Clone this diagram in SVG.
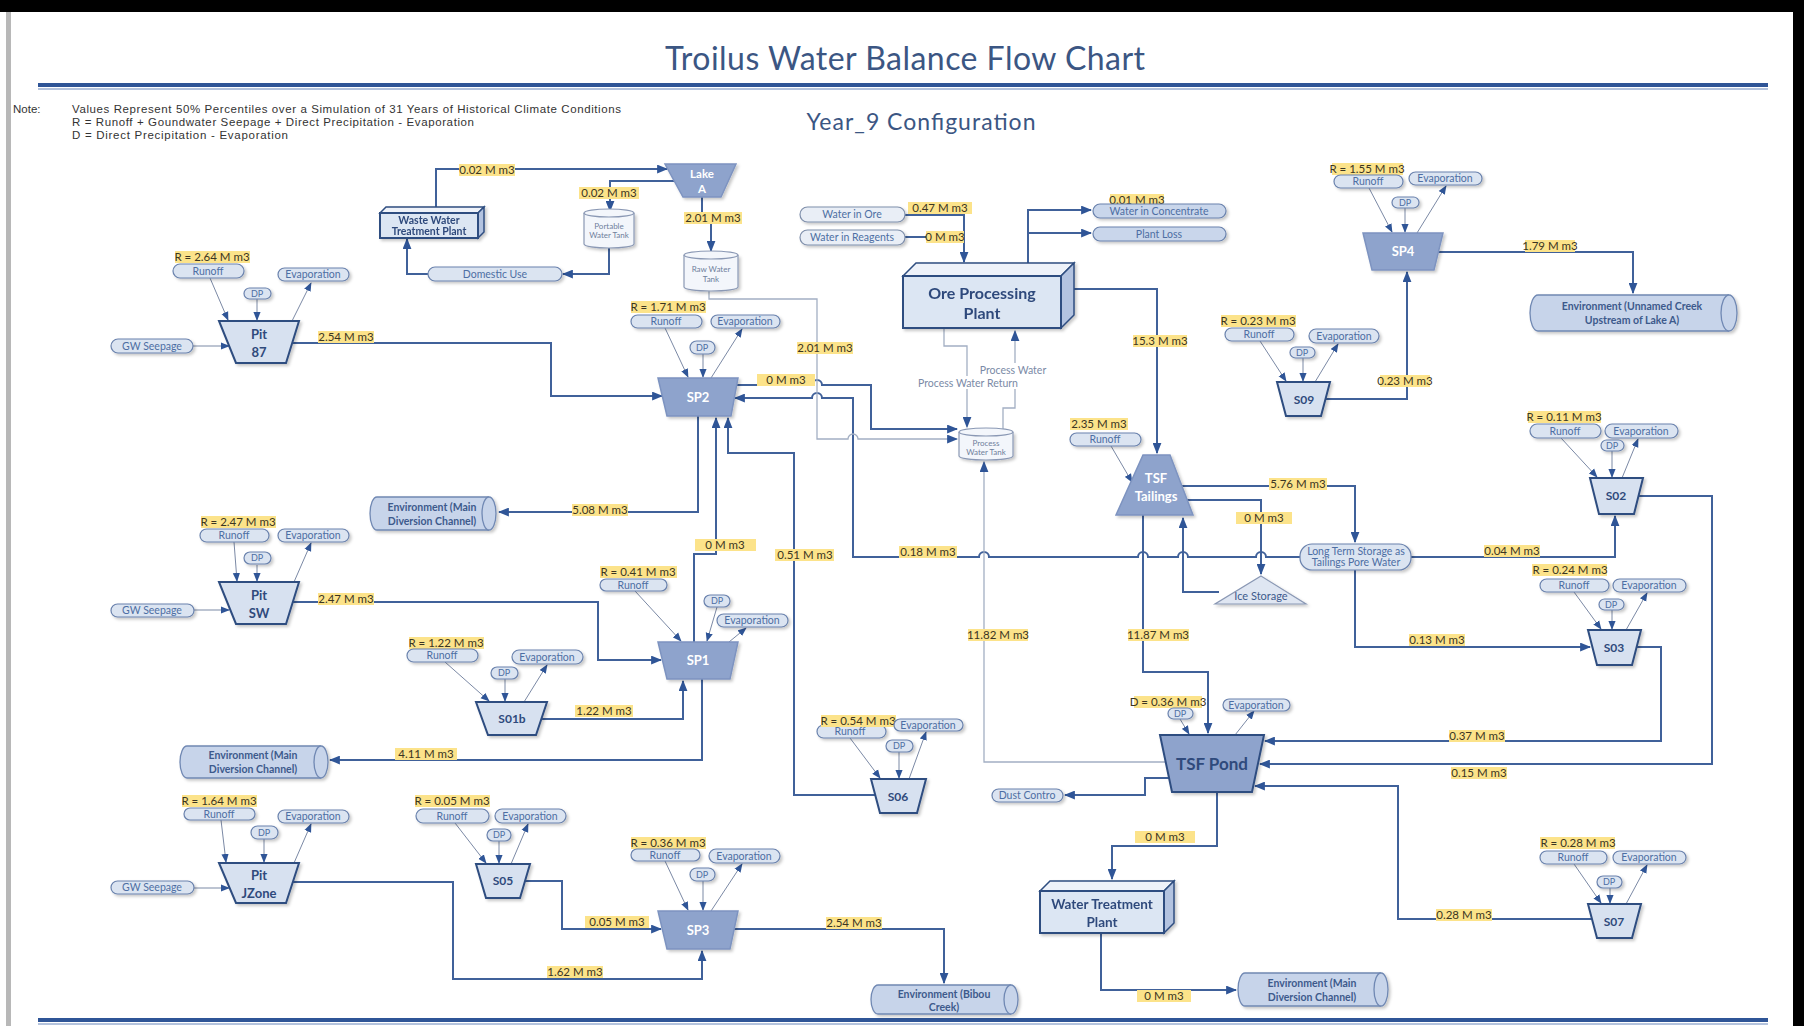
<svg xmlns="http://www.w3.org/2000/svg" width="1804" height="1026" viewBox="0 0 1804 1026">
<style>
text{font-family:Lato,"Open Sans","Liberation Sans",sans-serif}
.pill{fill:#dbe4f1;stroke:#6a82ad;stroke-width:1.2}
.pill2{fill:#e9eef6;stroke:#7f8fab;stroke-width:1.2}
.pill3{fill:#c9d6eb;stroke:#6a82ad;stroke-width:1.2}
.pt{font-size:10.5px;fill:#4d6ea3;text-anchor:middle}
.lb{fill:#fce38a}
.lt{font-size:11.5px;fill:#3b3522;text-anchor:middle}
.pl{fill:#d7e1f0;stroke:#2f4d80;stroke-width:2}
.pd{fill:#8ea3cc;stroke:#7d93c0;stroke-width:1.5}
.nt{font-size:13px;font-weight:bold;fill:#2f4a7c;text-anchor:middle}
.nw{font-size:13px;font-weight:bold;fill:#ffffff;text-anchor:middle}
.env{fill:#c7d4ea;stroke:#7088b3;stroke-width:1.3}
.et{font-size:10.5px;font-weight:bold;fill:#3d5a8c;text-anchor:middle}
.box{fill:#dce6f3;stroke:#2f4d80;stroke-width:2}
.boxt{fill:#eef2f9;stroke:#2f4d80;stroke-width:1.5}
.boxr{fill:#b3c3e0;stroke:#2f4d80;stroke-width:1.5}
.tank{fill:#f3f6fb;stroke:#8a98b4;stroke-width:1.2}
.tt{font-size:8px;fill:#6f7f9c;text-anchor:middle}
.c{fill:none;stroke:#40619a;stroke-width:2}
.t{fill:none;stroke:#a3afc3;stroke-width:1.3}
.s{fill:none;stroke:#7b89a5;stroke-width:1}
.gt{font-size:10.5px;fill:#7a8aa6;text-anchor:middle}
.note{font-family:"Liberation Sans",Arial,sans-serif;font-size:11.5px;fill:#333}
.sh{filter:url(#sh)}
</style>
<defs>
<filter id="sh" x="-10%" y="-10%" width="130%" height="150%"><feDropShadow dx="2" dy="2" stdDeviation="1.5" flood-color="#000" flood-opacity="0.22"/></filter>
<marker id="a" viewBox="0 0 10 8" refX="9" refY="4" markerWidth="11" markerHeight="9" markerUnits="userSpaceOnUse" orient="auto"><path d="M0,0 L10,4 L0,8 Z" fill="#2f5597"/></marker>
<marker id="b" viewBox="0 0 10 8" refX="9" refY="4" markerWidth="9" markerHeight="8" markerUnits="userSpaceOnUse" orient="auto"><path d="M0,0 L10,4 L0,8 Z" fill="#2f5597"/></marker>
</defs>

<!-- frame -->
<rect x="0" y="0" width="1804" height="1026" fill="#ffffff"/>
<rect x="0" y="0" width="1804" height="12" fill="#000"/>
<rect x="1793" y="0" width="11" height="1026" fill="#000"/>
<rect x="6" y="12" width="5" height="1014" fill="#b8b8b8"/>
<line x1="38" y1="89" x2="1768" y2="89" stroke="#b4c3dd" stroke-width="2"/>
<line x1="38" y1="85" x2="1768" y2="85" stroke="#2f5597" stroke-width="4"/>
<line x1="38" y1="1024" x2="1768" y2="1024" stroke="#b4c3dd" stroke-width="2"/>
<line x1="38" y1="1020" x2="1768" y2="1020" stroke="#2f5597" stroke-width="4"/>

<text x="905" y="70" style="font-size:32px;fill:#3b5683;text-anchor:middle" textLength="480">Troilus Water Balance Flow Chart</text>
<text x="921" y="130" style="font-size:23px;fill:#3b5683;text-anchor:middle" textLength="229">Year_9 Configuration</text>
<text class="note" x="13" y="113">Note:</text>
<text class="note" x="72" y="113" textLength="549">Values Represent 50% Percentiles over a Simulation of 31 Years of Historical Climate Conditions</text>
<text class="note" x="72" y="126" textLength="402">R = Runoff + Goundwater Seepage + Direct Precipitation - Evaporation</text>
<text class="note" x="72" y="139" textLength="216">D = Direct Precipitation - Evaporation</text>

<!-- connectors -->
<g id="connectors">
<g class="c">
<path d="M436,207 V169 H667" marker-end="url(#a)"/>
<path d="M674,181 H610 V211" marker-end="url(#a)"/>
<path d="M609,247 V274 H563" marker-end="url(#a)"/>
<path d="M428,274 H407 V239" marker-end="url(#a)"/>
<path d="M702,197 V218 H711 V251" marker-end="url(#a)"/>
<path d="M292,343 H551 V396 H662" marker-end="url(#a)"/>
<path d="M737,385 H812 A5,5 0 0 1 822,385 H871 V429 H957" marker-end="url(#a)"/>
<path d="M1300,557 H1266 A5,5 0 0 0 1256,557 H1188 A5,5 0 0 0 1178,557 H1148 A5,5 0 0 0 1138,557 H989 A5,5 0 0 0 979,557 H853 V398 H822 A5,5 0 0 0 812,398 H735" marker-end="url(#a)"/>
<path d="M698,416 V512 H499" marker-end="url(#a)"/>
<path d="M694,642 V554 H716 V418" marker-end="url(#a)"/>
<path d="M875,795 H794 V453 H728 V418" marker-end="url(#a)"/>
<path d="M293,602 H598 V660 H661" marker-end="url(#a)"/>
<path d="M541,719 H683 V681" marker-end="url(#a)"/>
<path d="M702,679 V760 H330" marker-end="url(#a)"/>
<path d="M525,881 H562 V929 H661" marker-end="url(#a)"/>
<path d="M293,882 H453 V979 H702 V951" marker-end="url(#a)"/>
<path d="M734,929 H944 V983" marker-end="url(#a)"/>
<path d="M905,215 H964 V262" marker-end="url(#a)"/>
<path d="M905,237 H964"/>
<path d="M1028,263 V210 H1091" marker-end="url(#a)"/>
<path d="M1028,233 H1091" marker-end="url(#a)"/>
<path d="M1074,289 H1157 V453" marker-end="url(#a)"/>
<path d="M1182,486 H1355 V542" marker-end="url(#a)"/>
<path d="M1187,500 H1261 V574" marker-end="url(#a)"/>
<path d="M1219,592 H1183 V518" marker-end="url(#a)"/>
<path d="M1143,515 V672 H1208 V733" marker-end="url(#a)"/>
<path d="M1411,557 H1615 V516" marker-end="url(#a)"/>
<path d="M1355,570 V647 H1590" marker-end="url(#a)"/>
<path d="M1637,647 H1661 V741 H1265" marker-end="url(#a)"/>
<path d="M1638,496 H1712 V764 H1260" marker-end="url(#a)"/>
<path d="M1592,919 H1398 V786 H1255" marker-end="url(#a)"/>
<path d="M1169,778 H1145 V795 H1065" marker-end="url(#a)"/>
<path d="M1217,792 V846 H1112 V879" marker-end="url(#a)"/>
<path d="M1101,933 V990 H1236" marker-end="url(#a)"/>
<path d="M1438,252 H1633 V293" marker-end="url(#a)"/>
<path d="M1325,399 H1407 V272" marker-end="url(#a)"/>
</g>
<g class="t">
<path d="M709,290 V299 H817 V439 H848 A5,5 0 0 1 858,439 H957" marker-end="url(#a)"/>
<path d="M944,328 V346 H967 V427" marker-end="url(#a)"/>
<path d="M1003,430 V408 H1015 V331" marker-end="url(#a)"/>
<path d="M1166,762 H984 V462" marker-end="url(#a)"/>
</g>
<g class="s">
<path d="M210,278 L228,320" marker-end="url(#b)"/><path d="M257,299 V320" marker-end="url(#b)"/><path d="M292,321 L311,283" marker-end="url(#b)"/>
<path d="M234,542 L237,581" marker-end="url(#b)"/><path d="M257,565 V581" marker-end="url(#b)"/><path d="M294,582 L311,543" marker-end="url(#b)"/>
<path d="M221,820 L226,862" marker-end="url(#b)"/><path d="M264,839 V862" marker-end="url(#b)"/><path d="M294,863 L311,824" marker-end="url(#b)"/>
<path d="M665,328 L688,377" marker-end="url(#b)"/><path d="M703,354 V377" marker-end="url(#b)"/><path d="M711,378 L742,329" marker-end="url(#b)"/>
<path d="M635,591 L681,641" marker-end="url(#b)"/><path d="M717,607 L707,641" marker-end="url(#b)"/><path d="M729,642 L746,628" marker-end="url(#b)"/>
<path d="M665,861 L688,910" marker-end="url(#b)"/><path d="M703,881 V910" marker-end="url(#b)"/><path d="M711,911 L742,864" marker-end="url(#b)"/>
<path d="M1369,188 L1392,232" marker-end="url(#b)"/><path d="M1405,208 V232" marker-end="url(#b)"/><path d="M1417,233 L1446,186" marker-end="url(#b)"/>
<path d="M1260,341 L1286,381" marker-end="url(#b)"/><path d="M1303,358 V381" marker-end="url(#b)"/><path d="M1315,382 L1338,344" marker-end="url(#b)"/>
<path d="M1561,438 L1597,477" marker-end="url(#b)"/><path d="M1612,451 V477" marker-end="url(#b)"/><path d="M1622,478 L1638,439" marker-end="url(#b)"/>
<path d="M1574,592 L1601,629" marker-end="url(#b)"/><path d="M1612,610 V629" marker-end="url(#b)"/><path d="M1626,630 L1647,593" marker-end="url(#b)"/>
<path d="M1574,864 L1601,903" marker-end="url(#b)"/><path d="M1610,888 V903" marker-end="url(#b)"/><path d="M1626,904 L1647,865" marker-end="url(#b)"/>
<path d="M445,662 L489,701" marker-end="url(#b)"/><path d="M505,679 V701" marker-end="url(#b)"/><path d="M524,702 L547,665" marker-end="url(#b)"/>
<path d="M455,823 L486,863" marker-end="url(#b)"/><path d="M499,841 V863" marker-end="url(#b)"/><path d="M511,864 L528,824" marker-end="url(#b)"/>
<path d="M850,738 L880,778" marker-end="url(#b)"/><path d="M899,752 V778" marker-end="url(#b)"/><path d="M909,779 L926,732" marker-end="url(#b)"/>
<path d="M1180,719 L1189,734" marker-end="url(#b)"/><path d="M1235,735 L1254,711" marker-end="url(#b)"/>
<path d="M1111,446 L1132,482" marker-end="url(#b)"/>
<path d="M193,346 H229" marker-end="url(#b)"/>
<path d="M194,610 H229" marker-end="url(#b)"/>
<path d="M194,888 H229" marker-end="url(#b)"/>
</g>
</g>

<!-- flow labels -->
<g id="flow-labels">
<rect class="lb" x="459" y="164" width="56" height="12"/><text class="lt" x="487" y="174">0.02 M m3</text>
<rect class="lb" x="579" y="187" width="60" height="12"/><text class="lt" x="609" y="197">0.02 M m3</text>
<rect class="lb" x="684" y="212" width="58" height="12"/><text class="lt" x="713" y="222">2.01 M m3</text>
<rect class="lb" x="318" y="331" width="56" height="12"/><text class="lt" x="346" y="341">2.54 M m3</text>
<rect class="lb" x="797" y="342" width="56" height="12"/><text class="lt" x="825" y="352">2.01 M m3</text>
<rect class="lb" x="757" y="374" width="58" height="12"/><text class="lt" x="786" y="384">0 M m3</text>
<rect class="lb" x="908" y="202" width="64" height="12"/><text class="lt" x="940" y="212">0.47 M m3</text>
<rect class="lb" x="926" y="231" width="38" height="12"/><text class="lt" x="945" y="241">0 M m3</text>
<rect class="lb" x="1110" y="194" width="54" height="12"/><text class="lt" x="1137" y="204">0.01 M m3</text>
<rect class="lb" x="1133" y="335" width="54" height="12"/><text class="lt" x="1160" y="345">15.3 M m3</text>
<rect class="lb" x="1525" y="240" width="50" height="12"/><text class="lt" x="1550" y="250">1.79 M m3</text>
<rect class="lb" x="1380" y="375" width="50" height="12"/><text class="lt" x="1405" y="385">0.23 M m3</text>
<rect class="lb" x="1070" y="418" width="58" height="12"/><text class="lt" x="1099" y="428">2.35 M m3</text>
<rect class="lb" x="1269" y="478" width="58" height="12"/><text class="lt" x="1298" y="488">5.76 M m3</text>
<rect class="lb" x="1236" y="512" width="56" height="12"/><text class="lt" x="1264" y="522">0 M m3</text>
<rect class="lb" x="1484" y="545" width="56" height="12"/><text class="lt" x="1512" y="555">0.04 M m3</text>
<rect class="lb" x="1409" y="634" width="56" height="12"/><text class="lt" x="1437" y="644">0.13 M m3</text>
<rect class="lb" x="899" y="546" width="58" height="12"/><text class="lt" x="928" y="556">0.18 M m3</text>
<rect class="lb" x="775" y="549" width="59" height="12"/><text class="lt" x="805" y="559">0.51 M m3</text>
<rect class="lb" x="695" y="539" width="61" height="12"/><text class="lt" x="725" y="549">0 M m3</text>
<rect class="lb" x="572" y="504" width="56" height="12"/><text class="lt" x="600" y="514">5.08 M m3</text>
<rect class="lb" x="318" y="593" width="56" height="12"/><text class="lt" x="346" y="603">2.47 M m3</text>
<rect class="lb" x="575" y="705" width="58" height="12"/><text class="lt" x="604" y="715">1.22 M m3</text>
<rect class="lb" x="395" y="748" width="62" height="12"/><text class="lt" x="426" y="758">4.11 M m3</text>
<rect class="lb" x="968" y="629" width="60" height="12"/><text class="lt" x="998" y="639">11.82 M m3</text>
<rect class="lb" x="1128" y="629" width="61" height="12"/><text class="lt" x="1158" y="639">11.87 M m3</text>
<rect class="lb" x="1449" y="730" width="56" height="12"/><text class="lt" x="1477" y="740">0.37 M m3</text>
<rect class="lb" x="1451" y="767" width="56" height="12"/><text class="lt" x="1479" y="777">0.15 M m3</text>
<rect class="lb" x="585" y="916" width="64" height="12"/><text class="lt" x="617" y="926">0.05 M m3</text>
<rect class="lb" x="547" y="966" width="56" height="12"/><text class="lt" x="575" y="976">1.62 M m3</text>
<rect class="lb" x="826" y="917" width="56" height="12"/><text class="lt" x="854" y="927">2.54 M m3</text>
<rect class="lb" x="1135" y="831" width="60" height="12"/><text class="lt" x="1165" y="841">0 M m3</text>
<rect class="lb" x="1137" y="990" width="54" height="12"/><text class="lt" x="1164" y="1000">0 M m3</text>
<rect class="lb" x="1436" y="909" width="56" height="12"/><text class="lt" x="1464" y="919">0.28 M m3</text>
<rect fill="#fff" x="915" y="376" width="107" height="13"/><text class="gt" x="968" y="387">Process Water Return</text>
<rect fill="#fff" x="978" y="363" width="71" height="13"/><text class="gt" x="1013" y="374">Process Water</text>
</g>

<!-- top area nodes -->
<g id="wwtp" class="sh">
<polygon class="boxt" points="380,213 386,207 484,207 478,213"/>
<polygon class="boxr" points="478,213 484,207 484,232 478,238"/>
<rect class="box" x="380" y="213" width="98" height="25"/>
<text class="et" style="font-size:10.5px;fill:#2f4a7c" x="429" y="224">Waste Water</text>
<text class="et" style="font-size:10.5px;fill:#2f4a7c" x="429" y="235">Treatment Plant</text>
</g>
<g id="lakeA">
<polygon class="pd sh" points="665,164 736,164 721,197 683,197"/>
<text class="nw" style="font-size:11.5px" x="702" y="178">Lake</text>
<text class="nw" style="font-size:11.5px" x="702" y="193">A</text>
</g>
<g id="portable-tank">
<path class="tank sh" d="M584,213 V244 A25,4 0 0 0 634,244 V213"/>
<ellipse class="tank" cx="609" cy="213" rx="25" ry="4"/>
<text class="tt" x="609" y="229">Portable</text>
<text class="tt" x="609" y="238">Water Tank</text>
</g>
<g id="domestic-use"><rect class="pill sh" x="428" y="267" width="134" height="14" rx="7"/><text class="pt" x="495" y="278">Domestic Use</text></g>
<g id="raw-tank">
<path class="tank sh" d="M684,255 V287 A27,4 0 0 0 738,287 V255"/>
<ellipse class="tank" cx="711" cy="255" rx="27" ry="4"/>
<text class="tt" x="711" y="272">Raw Water</text>
<text class="tt" x="711" y="282">Tank</text>
</g>
<g id="water-in-ore"><rect class="pill2 sh" x="800" y="207" width="105" height="15" rx="7.5"/><text class="pt" x="852" y="218">Water in Ore</text></g>
<g id="water-in-reagents"><rect class="pill2 sh" x="800" y="230" width="105" height="15" rx="7.5"/><text class="pt" x="852" y="241">Water in Reagents</text></g>
<g id="water-in-concentrate"><rect class="pill3 sh" x="1093" y="204" width="133" height="14" rx="7"/><text class="pt" x="1159" y="215">Water in Concentrate</text></g>
<g id="plant-loss"><rect class="pill3 sh" x="1093" y="227" width="133" height="14" rx="7"/><text class="pt" x="1159" y="238">Plant Loss</text></g>
<g id="ore-plant" class="sh">
<polygon class="boxt" points="903,276 916,263 1074,263 1061,276"/>
<polygon class="boxr" points="1061,276 1074,263 1074,315 1061,328"/>
<rect class="box" x="903" y="276" width="158" height="52"/>
<text class="nt" style="font-size:16px" x="982" y="299">Ore Processing</text>
<text class="nt" style="font-size:16px" x="982" y="319">Plant</text>
</g>
<g id="process-tank">
<path class="tank sh" d="M959,432 V456 A27,4 0 0 0 1013,456 V432"/>
<ellipse class="tank" cx="986" cy="432" rx="27" ry="4"/>
<text class="tt" x="986" y="446">Process</text>
<text class="tt" x="986" y="455">Water Tank</text>
</g>

<!-- Pit 87 -->
<g id="pit87">
<rect class="lb" x="175" y="251" width="75" height="12"/><text class="lt" x="212" y="261">R = 2.64 M m3</text>
<rect class="pill sh" x="173" y="264" width="71" height="14" rx="7"/><text class="pt" x="208" y="275">Runoff</text>
<rect class="pill sh" x="278" y="268" width="71" height="13" rx="6.5"/><text class="pt" x="313" y="278">Evaporation</text>
<rect class="pill sh" x="244" y="288" width="27" height="11" rx="5.5"/><text class="pt" x="257" y="297" style="font-size:9px">DP</text>
<rect class="pill sh" x="111" y="339" width="82" height="14" rx="7"/><text class="pt" x="152" y="350">GW Seepage</text>
<polygon class="pl sh" points="219,321 299,321 286,363 236,363"/>
<text class="nt" x="259" y="339">Pit</text><text class="nt" x="259" y="357">87</text>
</g>
<!-- Pit SW -->
<g id="pitSW">
<rect class="lb" x="201" y="516" width="75" height="12"/><text class="lt" x="238" y="526">R = 2.47 M m3</text>
<rect class="pill sh" x="200" y="529" width="69" height="13" rx="6.5"/><text class="pt" x="234" y="539">Runoff</text>
<rect class="pill sh" x="278" y="529" width="71" height="13" rx="6.5"/><text class="pt" x="313" y="539">Evaporation</text>
<rect class="pill sh" x="244" y="552" width="27" height="12" rx="6"/><text class="pt" x="257" y="561" style="font-size:9px">DP</text>
<rect class="pill sh" x="111" y="604" width="83" height="13" rx="6.5"/><text class="pt" x="152" y="614">GW Seepage</text>
<polygon class="pl sh" points="219,582 299,582 286,624 236,624"/>
<text class="nt" x="259" y="600">Pit</text><text class="nt" x="259" y="618">SW</text>
</g>
<!-- Pit JZone -->
<g id="pitJZone">
<rect class="lb" x="182" y="795" width="75" height="12"/><text class="lt" x="219" y="805">R = 1.64 M m3</text>
<rect class="pill sh" x="184" y="808" width="71" height="12" rx="6"/><text class="pt" x="219" y="818">Runoff</text>
<rect class="pill sh" x="278" y="810" width="71" height="13" rx="6.5"/><text class="pt" x="313" y="820">Evaporation</text>
<rect class="pill sh" x="251" y="826" width="27" height="13" rx="6.5"/><text class="pt" x="264" y="836" style="font-size:9px">DP</text>
<rect class="pill sh" x="111" y="881" width="83" height="13" rx="6.5"/><text class="pt" x="152" y="891">GW Seepage</text>
<polygon class="pl sh" points="219,863 299,863 286,903 236,903"/>
<text class="nt" x="259" y="880">Pit</text><text class="nt" x="259" y="898">JZone</text>
</g>
<!-- SP2 -->
<g id="sp2">
<rect class="lb" x="631" y="301" width="75" height="12"/><text class="lt" x="668" y="311">R = 1.71 M m3</text>
<rect class="pill sh" x="631" y="315" width="71" height="13" rx="6.5"/><text class="pt" x="666" y="325">Runoff</text>
<rect class="pill sh" x="711" y="315" width="69" height="13" rx="6.5"/><text class="pt" x="745" y="325">Evaporation</text>
<rect class="pill sh" x="690" y="341" width="25" height="13" rx="6.5"/><text class="pt" x="702" y="351" style="font-size:9px">DP</text>
<polygon class="pd sh" points="658,378 738,378 731,416 667,416"/>
<text class="nw" x="698" y="402">SP2</text>
</g>
<!-- SP1 -->
<g id="sp1">
<rect class="lb" x="600" y="566" width="77" height="12"/><text class="lt" x="638" y="576">R = 0.41 M m3</text>
<rect class="pill sh" x="600" y="579" width="67" height="12" rx="6"/><text class="pt" x="633" y="589">Runoff</text>
<rect class="pill sh" x="704" y="595" width="26" height="12" rx="6"/><text class="pt" x="717" y="604" style="font-size:9px">DP</text>
<rect class="pill sh" x="717" y="614" width="71" height="13" rx="6.5"/><text class="pt" x="752" y="624">Evaporation</text>
<polygon class="pd sh" points="658,642 738,642 730,679 667,679"/>
<text class="nw" x="698" y="665">SP1</text>
</g>
<!-- SP3 -->
<g id="sp3">
<rect class="lb" x="631" y="837" width="75" height="12"/><text class="lt" x="668" y="847">R = 0.36 M m3</text>
<rect class="pill sh" x="631" y="849" width="69" height="12" rx="6"/><text class="pt" x="665" y="859">Runoff</text>
<rect class="pill sh" x="709" y="849" width="71" height="14" rx="7"/><text class="pt" x="744" y="860">Evaporation</text>
<rect class="pill sh" x="690" y="868" width="25" height="13" rx="6.5"/><text class="pt" x="702" y="878" style="font-size:9px">DP</text>
<polygon class="pd sh" points="658,911 738,911 730,949 667,949"/>
<text class="nw" x="698" y="935">SP3</text>
</g>
<!-- SP4 -->
<g id="sp4">
<rect class="lb" x="1332" y="163" width="71" height="12"/><text class="lt" x="1367" y="173">R = 1.55 M m3</text>
<rect class="pill sh" x="1334" y="175" width="69" height="13" rx="6.5"/><text class="pt" x="1368" y="185">Runoff</text>
<rect class="pill sh" x="1409" y="172" width="73" height="13" rx="6.5"/><text class="pt" x="1445" y="182">Evaporation</text>
<rect class="pill sh" x="1392" y="197" width="27" height="11" rx="5.5"/><text class="pt" x="1405" y="206" style="font-size:9px">DP</text>
<polygon class="pd sh" points="1363,233 1443,233 1434,270 1372,270"/>
<text class="nw" x="1403" y="256">SP4</text>
</g>
<!-- S09 -->
<g id="s09">
<rect class="lb" x="1221" y="315" width="75" height="12"/><text class="lt" x="1258" y="325">R = 0.23 M m3</text>
<rect class="pill sh" x="1225" y="328" width="69" height="13" rx="6.5"/><text class="pt" x="1259" y="338">Runoff</text>
<rect class="pill sh" x="1309" y="329" width="70" height="14" rx="7"/><text class="pt" x="1344" y="340">Evaporation</text>
<rect class="pill sh" x="1290" y="347" width="25" height="11" rx="5.5"/><text class="pt" x="1302" y="356" style="font-size:9px">DP</text>
<polygon class="pl sh" points="1277,382 1330,382 1321,416 1286,416"/>
<text class="nt" style="font-size:12px" x="1304" y="404">S09</text>
</g>
<!-- S02 -->
<g id="s02">
<rect class="lb" x="1528" y="411" width="73" height="12"/><text class="lt" x="1564" y="421">R = 0.11 M m3</text>
<rect class="pill sh" x="1530" y="424" width="71" height="14" rx="7"/><text class="pt" x="1565" y="435">Runoff</text>
<rect class="pill sh" x="1605" y="424" width="73" height="14" rx="7"/><text class="pt" x="1641" y="435">Evaporation</text>
<rect class="pill sh" x="1601" y="440" width="23" height="11" rx="5.5"/><text class="pt" x="1612" y="449" style="font-size:9px">DP</text>
<polygon class="pl sh" points="1590,478 1643,478 1634,514 1599,514"/>
<text class="nt" style="font-size:12px" x="1616" y="500">S02</text>
</g>
<!-- S03 -->
<g id="s03">
<rect class="lb" x="1532" y="564" width="75" height="12"/><text class="lt" x="1570" y="574">R = 0.24 M m3</text>
<rect class="pill sh" x="1540" y="579" width="69" height="13" rx="6.5"/><text class="pt" x="1574" y="589">Runoff</text>
<rect class="pill sh" x="1613" y="579" width="73" height="13" rx="6.5"/><text class="pt" x="1649" y="589">Evaporation</text>
<rect class="pill sh" x="1599" y="599" width="25" height="11" rx="5.5"/><text class="pt" x="1611" y="608" style="font-size:9px">DP</text>
<polygon class="pl sh" points="1588,630 1641,630 1632,665 1597,665"/>
<text class="nt" style="font-size:12px" x="1614" y="652">S03</text>
</g>
<!-- S07 -->
<g id="s07">
<rect class="lb" x="1540" y="837" width="75" height="12"/><text class="lt" x="1578" y="847">R = 0.28 M m3</text>
<rect class="pill sh" x="1540" y="851" width="67" height="13" rx="6.5"/><text class="pt" x="1573" y="861">Runoff</text>
<rect class="pill sh" x="1613" y="851" width="73" height="13" rx="6.5"/><text class="pt" x="1649" y="861">Evaporation</text>
<rect class="pill sh" x="1597" y="876" width="25" height="12" rx="6"/><text class="pt" x="1609" y="885" style="font-size:9px">DP</text>
<polygon class="pl sh" points="1588,904 1641,904 1632,938 1597,938"/>
<text class="nt" style="font-size:12px" x="1614" y="926">S07</text>
</g>
<!-- S01b -->
<g id="s01b">
<rect class="lb" x="409" y="637" width="75" height="12"/><text class="lt" x="446" y="647">R = 1.22 M m3</text>
<rect class="pill sh" x="407" y="649" width="71" height="13" rx="6.5"/><text class="pt" x="442" y="659">Runoff</text>
<rect class="pill sh" x="512" y="650" width="71" height="14" rx="7"/><text class="pt" x="547" y="661">Evaporation</text>
<rect class="pill sh" x="491" y="667" width="27" height="12" rx="6"/><text class="pt" x="504" y="676" style="font-size:9px">DP</text>
<polygon class="pl sh" points="476,702 547,702 536,735 488,735"/>
<text class="nt" style="font-size:12px" x="512" y="723">S01b</text>
</g>
<!-- S05 -->
<g id="s05">
<rect class="lb" x="415" y="795" width="75" height="12"/><text class="lt" x="452" y="805">R = 0.05 M m3</text>
<rect class="pill sh" x="416" y="809" width="73" height="14" rx="7"/><text class="pt" x="452" y="820">Runoff</text>
<rect class="pill sh" x="495" y="809" width="71" height="14" rx="7"/><text class="pt" x="530" y="820">Evaporation</text>
<rect class="pill sh" x="487" y="829" width="24" height="12" rx="6"/><text class="pt" x="499" y="838" style="font-size:9px">DP</text>
<polygon class="pl sh" points="476,864 530,864 520,898 486,898"/>
<text class="nt" style="font-size:12px" x="503" y="885">S05</text>
</g>
<!-- S06 -->
<g id="s06">
<rect class="pill sh" x="817" y="725" width="69" height="13" rx="6.5"/><text class="pt" x="850" y="735">Runoff</text>
<rect class="lb" x="821" y="715" width="75" height="12"/><text class="lt" x="858" y="725">R = 0.54 M m3</text>
<rect class="pill sh" x="894" y="719" width="69" height="12" rx="6"/><text class="pt" x="928" y="729">Evaporation</text>
<rect class="pill sh" x="886" y="740" width="27" height="12" rx="6"/><text class="pt" x="899" y="749" style="font-size:9px">DP</text>
<polygon class="pl sh" points="871,779 926,779 917,813 880,813"/>
<text class="nt" style="font-size:12px" x="898" y="801">S06</text>
</g>
<!-- TSF Tailings -->
<g id="tsf-tailings">
<rect class="pill sh" x="1070" y="433" width="71" height="13" rx="6.5"/><text class="pt" x="1105" y="443">Runoff</text>
<polygon class="pd sh" points="1143,455 1170,455 1193,515 1116,515"/>
<text class="nw" x="1156" y="483">TSF</text>
<text class="nw" x="1156" y="501">Tailings</text>
</g>
<g id="ice-storage">
<polygon class="tank sh" points="1261,576 1306,604 1215,604" style="fill:#dfe6f2"/>
<text style="font-size:11px;fill:#3d5a8c;text-anchor:middle" x="1261" y="600">Ice Storage</text>
</g>
<g id="long-term-storage">
<rect class="pill sh" x="1300" y="544" width="111" height="26" rx="12"/>
<text class="pt" x="1356" y="555">Long Term Storage as</text>
<text class="pt" x="1356" y="566">Tailings Pore Water</text>
</g>
<!-- TSF Pond -->
<g id="tsf-pond">
<rect class="lb" x="1134" y="696" width="68" height="12"/><text class="lt" x="1168" y="706">D = 0.36 M m3</text>
<rect class="pill sh" x="1168" y="708" width="25" height="11" rx="5.5"/><text class="pt" x="1180" y="717" style="font-size:9px">DP</text>
<rect class="pill sh" x="1223" y="699" width="67" height="12" rx="6"/><text class="pt" x="1256" y="709">Evaporation</text>
<polygon class="pd sh" points="1160,735 1264,735 1252,792 1172,792" style="stroke:#2f4d80;stroke-width:2"/>
<text class="nt" style="font-size:17px" x="1212" y="770">TSF Pond</text>
</g>
<g id="dust-control"><rect class="pill sh" x="992" y="789" width="71" height="13" rx="6.5"/><text class="pt" x="1027" y="799">Dust Contro</text></g>
<g id="wtp" class="sh">
<polygon class="boxt" points="1040,891 1050,881 1174,881 1164,891"/>
<polygon class="boxr" points="1164,891 1174,881 1174,923 1164,933"/>
<rect class="box" x="1040" y="891" width="124" height="42"/>
<text class="nt" style="font-size:13.5px" x="1102" y="909">Water Treatment</text>
<text class="nt" style="font-size:13.5px" x="1102" y="927">Plant</text>
</g>

<!-- environments -->
<g id="env-unnamed">
<path class="env sh" d="M1538,295 H1729 A8,18 0 0 1 1729,331 H1538 A8,18 0 0 1 1538,295 Z"/>
<path class="env" d="M1729,295 A8,18 0 0 0 1729,331" fill="none"/>
<text class="et" x="1632" y="310">Environment (Unnamed Creek</text>
<text class="et" x="1632" y="324">Upstream of Lake A)</text>
</g>
<g id="env-main-1">
<path class="env sh" d="M377,497 H489 A7,16.5 0 0 1 489,530 H377 A7,16.5 0 0 1 377,497 Z"/>
<path class="env" d="M489,497 A7,16.5 0 0 0 489,530" fill="none"/>
<text class="et" x="432" y="511">Environment (Main</text>
<text class="et" x="432" y="525">Diversion Channel)</text>
</g>
<g id="env-main-2">
<path class="env sh" d="M187,746 H321 A7,16 0 0 1 321,778 H187 A7,16 0 0 1 187,746 Z"/>
<path class="env" d="M321,746 A7,16 0 0 0 321,778" fill="none"/>
<text class="et" x="253" y="759">Environment (Main</text>
<text class="et" x="253" y="773">Diversion Channel)</text>
</g>
<g id="env-bibou">
<path class="env sh" d="M878,985 H1011 A7,14.5 0 0 1 1011,1014 H878 A7,14.5 0 0 1 878,985 Z"/>
<path class="env" d="M1011,985 A7,14.5 0 0 0 1011,1014" fill="none"/>
<text class="et" x="944" y="998">Environment (Bibou</text>
<text class="et" x="944" y="1011">Creek)</text>
</g>
<g id="env-main-3">
<path class="env sh" d="M1245,973 H1381 A7,16.5 0 0 1 1381,1006 H1245 A7,16.5 0 0 1 1245,973 Z"/>
<path class="env" d="M1381,973 A7,16.5 0 0 0 1381,1006" fill="none"/>
<text class="et" x="1312" y="987">Environment (Main</text>
<text class="et" x="1312" y="1001">Diversion Channel)</text>
</g>
</svg>
